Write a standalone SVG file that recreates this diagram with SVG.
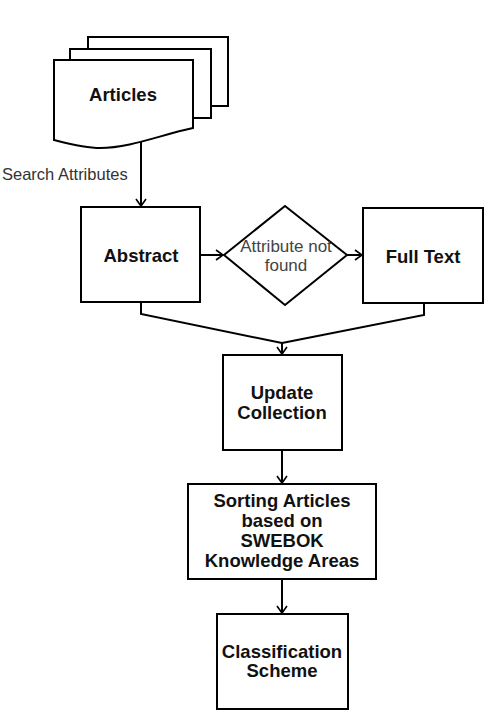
<svg xmlns="http://www.w3.org/2000/svg" width="484" height="710" viewBox="0 0 484 710">
<style>
.shape{fill:#fff;stroke:#000;stroke-width:2}
.line{fill:none;stroke:#000;stroke-width:2}
.t{font-family:"Liberation Sans",Arial,sans-serif;font-weight:bold;font-size:18.5px;fill:#111;text-anchor:middle}
.g{font-family:"Liberation Sans",Arial,sans-serif;font-size:16.5px;fill:#333}
</style>
<defs>
<marker id="arr" markerWidth="12" markerHeight="12" refX="0" refY="0" viewBox="-9 -6 11 12" markerUnits="userSpaceOnUse" orient="auto">
<path d="M-7,-5 L0,0 L-7,5" fill="none" stroke="#000" stroke-width="1.6"/>
</marker>
</defs>
<g id="articles">
<rect class="shape" x="88" y="37" width="140" height="69"/>
<rect class="shape" x="70" y="49" width="141" height="69"/>
<path class="shape" d="M54,60 H193 V128 C160,135 130,148 100,148 C85,148 70,144 54,140 Z"/>
<text class="t" x="123" y="101">Articles</text>
</g>
<g id="connectors">
<line class="line" x1="141" y1="141" x2="141" y2="206" marker-end="url(#arr)"/>
<line class="line" x1="200" y1="255" x2="223" y2="255" marker-end="url(#arr)"/>
<line class="line" x1="347" y1="255" x2="362" y2="255" marker-end="url(#arr)"/>
<polyline class="line" points="141,302 141,314 282,343"/>
<polyline class="line" points="424,303 424,315 282,343"/>
<line class="line" x1="282" y1="343" x2="282" y2="354" marker-end="url(#arr)"/>
<line class="line" x1="282" y1="450" x2="282" y2="483" marker-end="url(#arr)"/>
<line class="line" x1="282" y1="579" x2="282" y2="613" marker-end="url(#arr)"/>
<text class="g" x="2" y="180">Search Attributes</text>
</g>
<g id="abstract">
<rect class="shape" x="81" y="207" width="119" height="95"/>
<text class="t" x="141" y="262">Abstract</text>
</g>
<g id="decision">
<polygon class="shape" points="224,255 285,206 347,255 285,305"/>
<text class="g" x="286" y="252" text-anchor="middle" style="fill:#444;font-size:17px">Attribute not</text>
<text class="g" x="286" y="271" text-anchor="middle" style="fill:#444;font-size:17px">found</text>
</g>
<g id="fulltext">
<rect class="shape" x="363" y="208" width="120" height="95"/>
<text class="t" x="423" y="263">Full Text</text>
</g>
<g id="update">
<rect class="shape" x="223" y="355" width="119" height="95"/>
<text class="t" x="282" y="399">Update</text>
<text class="t" x="282" y="419">Collection</text>
</g>
<g id="sorting">
<rect class="shape" x="188" y="484" width="188" height="95"/>
<text class="t" x="282" y="507">Sorting Articles</text>
<text class="t" x="282" y="527">based on</text>
<text class="t" x="282" y="547">SWEBOK</text>
<text class="t" x="282" y="567">Knowledge Areas</text>
</g>
<g id="classification">
<rect class="shape" x="217" y="614" width="131" height="95"/>
<text class="t" x="282" y="658">Classification</text>
<text class="t" x="282" y="677">Scheme</text>
</g>
</svg>
